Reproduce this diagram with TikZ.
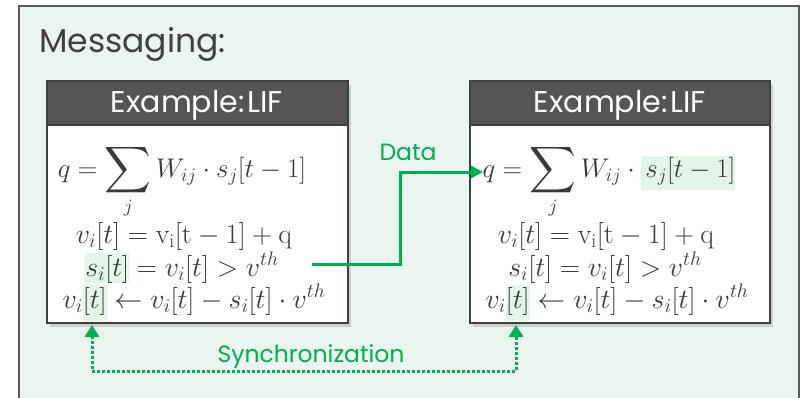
\RequirePackage{fix-cm}
\documentclass[tikz,border=0pt]{standalone}
\usepackage{amsmath}
\usepackage{fontspec}
\setsansfont{Poppins}
\usetikzlibrary{arrows.meta,shadows}
\definecolor{panelbg}{HTML}{EBF5EF}
\definecolor{panelline}{HTML}{5A5A5A}
\definecolor{headbg}{HTML}{555555}
\definecolor{boxline}{HTML}{404040}
\definecolor{titlegray}{HTML}{404040}
\definecolor{eqgray}{HTML}{3A3A3A}
\definecolor{linkgreen}{HTML}{00B050}
\definecolor{hlgreen}{HTML}{E3F4E9}
% enlarged summation sign
\newcommand\bigsum{\mathop{\vcenter{\hbox{\scalebox{1.3}{$\displaystyle\sum$}}}}\limits}
% shaded term: #1 height above baseline, #2 depth below, #3 math content
\newcommand\hlterm[3]{{\setlength{\fboxsep}{0pt}\colorbox{hlgreen}{\rule[-#2]{0pt}{\dimexpr#1+#2\relax}$#3$}}}
\tikzset{
  panel/.style={draw=panelline, line width=2pt, fill=panelbg},
  cardbody/.style={draw=boxline, line width=2.5pt, fill=white,
    drop shadow={opacity=0.3, shadow xshift=3pt, shadow yshift=-4pt}},
  cardhead/.style={draw=boxline, line width=2.5pt, fill=headbg},
  headtext/.style={text=white, font=\sffamily\fontsize{30}{34}\selectfont, inner sep=0pt,
    text height=20pt, text depth=4pt},
  eq/.style={text=eqgray, font=\fontsize{28}{32}\selectfont, inner sep=0pt, anchor=base},
  eqsum/.style={eq, font=\fontsize{27}{32}\selectfont},
  greenlabel/.style={text=linkgreen, font=\sffamily\fontsize{23.5}{28}\selectfont, inner sep=0pt, anchor=base},
  datalink/.style={draw=linkgreen, line width=3pt, -{Triangle[width=12pt,length=12pt]}},
  synclink/.style={draw=linkgreen, line width=3pt, dotted,
    {Triangle[width=14pt,length=12pt]}-{Triangle[width=14pt,length=12pt]}},
}
\begin{document}
\begin{tikzpicture}[x=1pt, y=-1pt]
\useasboundingbox (0,0) rectangle (808,397);
\begin{scope}
\clip (0,0) rectangle (808,397);
\draw[panel] (19,6) rectangle (799,410);
\end{scope}
\node[text=titlegray, font=\sffamily\fontsize{33}{38}\selectfont, inner sep=0pt, anchor=base west] (title) at (39,52) {Messaging:};

% left card
\draw[cardbody] (47,81) rectangle (348,323);
\draw[cardhead] (47,81) rectangle (348,125);
\node[headtext] (lhead) at (197,104) {Example:\hspace{0.1em}LIF};
% right card
\draw[cardbody] (470,81) rectangle (770,323);
\draw[cardhead] (470,81) rectangle (770,125);
\node[headtext] (rhead) at (620,104) {Example:\hspace{0.1em}LIF};

% equations, left card
\node[eqsum] (l1) at (182,177) {$q = \bigsum_j W_{ij}\cdot s_j[t-1]$};
\node[eq] (l2) at (184,243) {$v_i[t] = \mathrm{v_i[t-1]+q}$};
\node[eq] (l3) at (182,276) {$\hlterm{23pt}{6pt}{s_i[t]} = v_i[t] > v^{th}$};
\node[eq] (l4) at (194,308) {$v_i\hlterm{23pt}{13pt}{[t]} \leftarrow v_i[t] - s_i[t]\cdot v^{th}$};
% equations, right card
\node[eqsum] (r1) at (609,177) {$q = \bigsum_j W_{ij}\cdot \hlterm{21pt}{13pt}{\,s_j[t-1]}$};
\node[eq] (r2) at (606,243) {$v_i[t] = \mathrm{v_i[t-1]+q}$};
\node[eq] (r3) at (605,276) {$s_i[t] = v_i[t] > v^{th}$};
\node[eq] (r4) at (617,308) {$v_i\hlterm{23pt}{13pt}{[t]} \leftarrow v_i[t] - s_i[t]\cdot v^{th}$};

% data link
\coordinate (dstart) at (312,264);
\coordinate (dend) at (483,172);
\draw[datalink] (dstart) -- (400,264) -- (400,172) -- (dend);
\node[greenlabel] (datalbl) at (408,160) {Data};

% synchronization link
\coordinate (sleft) at (92,325);
\coordinate (sright) at (516,325);
\draw[synclink] (sleft) -- (92,371) -- (516,371) -- (sright);
\node[greenlabel] (synclbl) at (311,362) {Synchronization};
\end{tikzpicture}
\end{document}
